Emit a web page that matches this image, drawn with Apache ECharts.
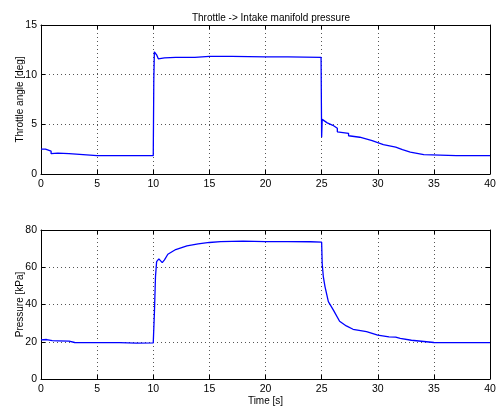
<!DOCTYPE html>
<html>
<head>
  <meta charset="utf-8" />
  <title>Throttle -> Intake manifold pressure</title>
  <script src="https://cdn.jsdelivr.net/npm/echarts@6/dist/echarts.min.js"></script>
  <style>
    html, body { margin: 0; padding: 0; background: #fff; }
    #main { width: 500px; height: 410px; }
  </style>
</head>
<body>
  <div id="main"></div>
  <script type="text/javascript">
    // throttle angle [deg] vs time [s]
    const throttleTime = [0, 0.4, 0.4, 0.9, 0.9, 1.5, 2.5, 2.5, 5, 10.0, 10.05, 10.1, 10.15, 10.3, 10.45, 10.6, 11, 12, 13.7, 13.7, 15, 17, 20, 22, 24.95,
      25.0, 25.05, 25.1, 25.5, 26.0, 26.4, 26.4, 27.4, 27.4, 28.4, 28.4, 29.5, 29.5, 30.5, 30.5, 31.6, 31.6, 32.2, 32.2, 32.9, 32.9, 34.1, 34.1, 37, 40];
    const throttleAngle = [2.5, 2.5, 2.35, 2.3, 2.05, 2.1, 2.05, 1.85, 1.85, 1.85, 9.5, 12.3, 12.1, 12.0, 11.6, 11.7, 11.7, 11.75, 11.75, 11.9, 11.85, 11.85, 11.8, 11.8, 11.75,
      3.7, 5.5, 5.3, 5.15, 4.9, 4.6, 4.25, 4.1, 3.85, 3.7, 3.6, 3.35, 3.15, 2.95, 2.85, 2.7, 2.55, 2.45, 2.3, 2.2, 2.05, 1.95, 1.85, 1.85, 1.85];

    // manifold pressure [kPa] vs time [s]
    const pressureTime = [0, 0.5, 1, 1.5, 2.5, 3, 5, 7, 8.5, 10.0, 10.1, 10.2, 10.3, 10.5, 10.8, 11.0, 11.3, 12, 13, 14, 15, 16, 18, 20, 22, 24,
      25.0, 25.05, 25.15, 25.3, 25.6, 26.05, 26.6, 27.2, 27.8, 29, 30, 31, 31.6, 32, 33, 35, 37, 40];
    const pressure = [21, 21.2, 20.6, 20.5, 20.3, 19.6, 19.5, 19.5, 19.3, 19.4, 35, 55, 63, 64.5, 62.5, 64, 67, 69.5, 71.5, 72.5, 73.3, 73.8, 74, 73.8, 73.8, 73.7,
      73.5, 62, 55, 49.6, 41.5, 37, 31, 28.5, 26.7, 25.4, 23.5, 22.6, 22.5, 21.8, 20.8, 19.6, 19.5, 19.5];

    const font = 'Liberation Sans, Arial, sans-serif';
    const gridLine = { show: true, lineStyle: { color: '#555', type: [1, 3], width: 1 } };
    const boxLine = { show: true, onZero: false, lineStyle: { color: '#000', width: 1 } };
    const tick = { show: true, inside: true, length: 4, lineStyle: { color: '#000' } };
    const label = { color: '#000', fontSize: 10.5, fontFamily: font };

    function xAxes(gridIndex, name) {
      return [
        { type: 'value', gridIndex, min: 0, max: 40, interval: 5, position: 'bottom',
          axisLine: boxLine, axisTick: tick, splitLine: gridLine,
          axisLabel: { ...label, margin: 5 },
          name, nameLocation: 'middle', nameGap: 17, nameMoveOverlap: false,
          nameTextStyle: { color: '#000', fontSize: 10, fontFamily: font } },
        { type: 'value', gridIndex, min: 0, max: 40, interval: 5, position: 'top',
          axisLine: boxLine, axisTick: tick, splitLine: { show: false }, axisLabel: { show: false } }
      ];
    }
    function yAxes(gridIndex, max, interval, name) {
      return [
        { type: 'value', gridIndex, min: 0, max, interval, position: 'left',
          axisLine: boxLine, axisTick: tick, splitLine: gridLine,
          axisLabel: { ...label, margin: 4 },
          name, nameLocation: 'middle', nameGap: 16, nameMoveOverlap: false,
          nameTextStyle: { color: '#000', fontSize: 10, fontFamily: font } },
        { type: 'value', gridIndex, min: 0, max, interval, position: 'right',
          axisLine: boxLine, axisTick: tick, splitLine: { show: false }, axisLabel: { show: false } }
      ];
    }

    const myChart = echarts.init(document.getElementById('main'), null, { renderer: 'canvas' });
    myChart.setOption({
      animation: false,
      backgroundColor: '#fff',
      title: {
        text: 'Throttle -> Intake manifold pressure',
        left: 266, top: 8, textAlign: 'center',
        textStyle: { color: '#000', fontSize: 10, fontWeight: 'normal', fontFamily: font }
      },
      grid: [
        { left: 41, top: 25, width: 449, height: 149, outerBoundsMode: 'none', containLabel: false },
        { left: 41, top: 230, width: 449, height: 149, outerBoundsMode: 'none', containLabel: false }
      ],
      xAxis: [...xAxes(0, ''), ...xAxes(1, 'Time [s]')],
      yAxis: [...yAxes(0, 15, 5, 'Throttle angle [deg]'), ...yAxes(1, 80, 20, 'Pressure [kPa]')],
      series: [
        { type: 'line', xAxisIndex: 0, yAxisIndex: 0, showSymbol: false,
          lineStyle: { color: '#0000ff', width: 1.3 },
          data: throttleTime.map((t, i) => [t, throttleAngle[i]]) },
        { type: 'line', xAxisIndex: 2, yAxisIndex: 2, showSymbol: false,
          lineStyle: { color: '#0000ff', width: 1.3 },
          data: pressureTime.map((t, i) => [t, pressure[i]]) }
      ]
    });
  </script>
</body>
</html>
